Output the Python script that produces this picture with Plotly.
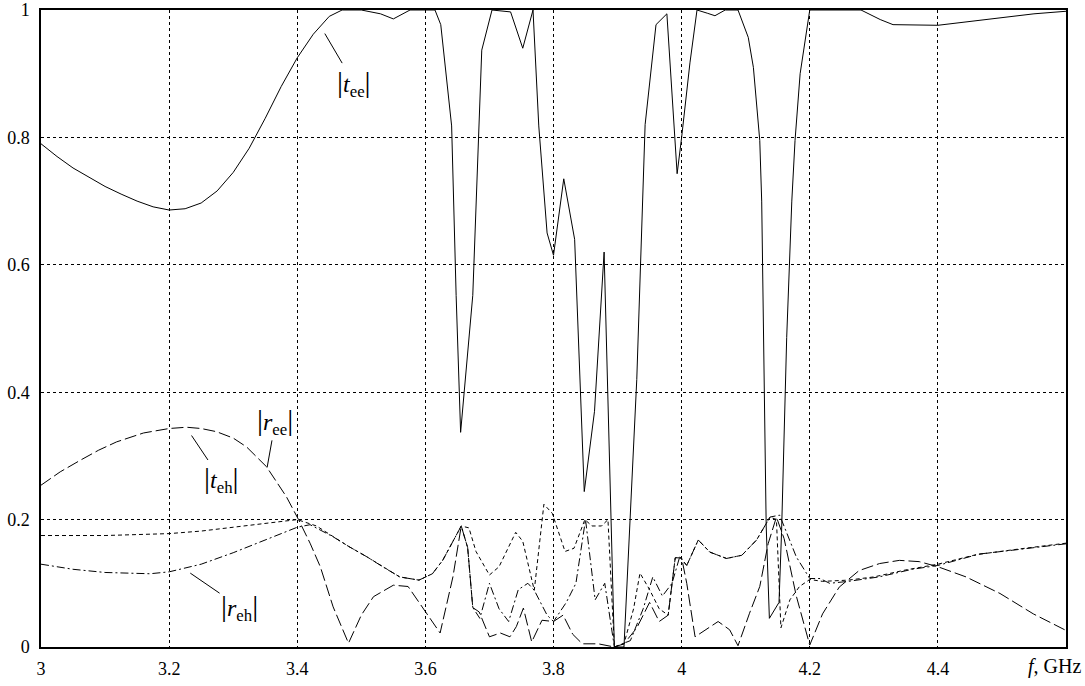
import plotly.graph_objects as go

# |t_ee| (solid)
tee_f = [3.0, 3.025, 3.05, 3.075, 3.1, 3.125, 3.15, 3.175, 3.2, 3.225, 3.25, 3.275, 3.3, 3.325, 3.35, 3.375,
         3.4, 3.425, 3.45, 3.47, 3.5, 3.53, 3.55, 3.576, 3.615,
         3.624, 3.641, 3.648, 3.655, 3.674, 3.688, 3.704, 3.733, 3.752, 3.768, 3.777, 3.79, 3.8, 3.816,
         3.833, 3.848, 3.864, 3.879, 3.895, 3.91, 3.93, 3.943, 3.96, 3.977, 3.993, 4.0, 4.013, 4.024,
         4.04, 4.052, 4.068, 4.088, 4.104, 4.112, 4.122, 4.125, 4.132, 4.137, 4.152, 4.156, 4.164,
         4.172, 4.177, 4.185, 4.2, 4.28, 4.31, 4.33, 4.4, 4.45, 4.5, 4.55, 4.6]
tee_v = [0.79, 0.77, 0.752, 0.737, 0.723, 0.711, 0.700, 0.691, 0.686, 0.688, 0.697, 0.716, 0.745, 0.783, 0.83, 0.88,
         0.925, 0.962, 0.99, 1.0, 1.0, 0.994, 0.986, 1.0, 1.0,
         0.977, 0.818, 0.552, 0.337, 0.552, 0.937, 1.0, 0.997, 0.94, 1.0, 0.818, 0.65, 0.615, 0.735,
         0.64, 0.244, 0.37, 0.62, 0.0, 0.0, 0.42, 0.82, 0.977, 0.994, 0.743, 0.80, 0.917, 1.0,
         0.995, 0.991, 1.0, 1.0, 0.957, 0.91, 0.795, 0.70, 0.19, 0.045, 0.07, 0.18, 0.486,
         0.70, 0.795, 0.90, 1.0, 1.0, 0.985, 0.977, 0.976, 0.982, 0.988, 0.994, 0.998]

# |r_ee| (long dash)
ree_f = [3.0, 3.03, 3.061, 3.09, 3.118, 3.16, 3.2, 3.227, 3.25, 3.274, 3.3, 3.321, 3.352, 3.383, 3.402, 3.42,
         3.436, 3.456, 3.48, 3.5, 3.519, 3.55,
         3.573, 3.602, 3.623, 3.643, 3.656, 3.666, 3.674, 3.684, 3.70, 3.717, 3.732, 3.742, 3.753, 3.766,
         3.782, 3.80, 3.815, 3.83, 3.845, 3.87, 3.895, 3.91, 3.93, 3.95, 3.965, 3.979, 3.99, 4.0, 4.008,
         4.021, 4.044, 4.057, 4.075, 4.088, 4.106, 4.122, 4.135, 4.148, 4.16, 4.179, 4.2, 4.22, 4.246,
         4.277, 4.309, 4.34, 4.371, 4.4, 4.444, 4.497, 4.549, 4.6]
ree_v = [0.254, 0.275, 0.293, 0.309, 0.322, 0.336, 0.343, 0.345, 0.343, 0.338, 0.328, 0.314, 0.283, 0.236, 0.2, 0.163,
         0.126, 0.063, 0.006, 0.05, 0.079, 0.097,
         0.095, 0.053, 0.022, 0.11, 0.19, 0.156, 0.062, 0.055, 0.016, 0.022, 0.016, 0.032, 0.061, 0.008,
         0.042, 0.04, 0.05, 0.02, 0.005, 0.005, 0.0, 0.005, 0.03, 0.07, 0.04, 0.05, 0.14, 0.14, 0.1,
         0.016, 0.032, 0.04, 0.027, 0.002, 0.053, 0.095, 0.162, 0.204, 0.17, 0.08, 0.003, 0.052, 0.094,
         0.12, 0.131, 0.136, 0.134, 0.126, 0.11, 0.084, 0.052, 0.026]

# |t_eh| (short dash)
teh_f = [3.0, 3.1, 3.2, 3.25, 3.3, 3.35, 3.4, 3.43, 3.456, 3.48, 3.508, 3.535, 3.56, 3.59, 3.611, 3.627, 3.656,
         3.668, 3.679, 3.70,
         3.715, 3.741, 3.752, 3.77, 3.785, 3.798, 3.818, 3.832, 3.849, 3.86, 3.875, 3.885, 3.895, 3.91,
         3.925, 3.935, 3.95, 3.965, 3.979, 3.99, 3.997, 4.008, 4.026, 4.044, 4.07, 4.094, 4.117, 4.138,
         4.148, 4.155, 4.169, 4.184, 4.2, 4.22, 4.26, 4.3, 4.35, 4.4, 4.46, 4.52, 4.6]
teh_v = [0.175, 0.175, 0.178, 0.182, 0.188, 0.194, 0.2, 0.19, 0.173, 0.158, 0.142, 0.125, 0.11, 0.105, 0.115,
         0.136, 0.19, 0.187, 0.15, 0.113,
         0.126, 0.18, 0.166, 0.089, 0.224, 0.21, 0.15, 0.155, 0.2, 0.19, 0.19, 0.2, 0.0, 0.005,
         0.06, 0.116, 0.09, 0.06, 0.05, 0.14, 0.1415, 0.128, 0.168, 0.149, 0.139, 0.144, 0.168, 0.204,
         0.2, 0.03, 0.074, 0.095, 0.106, 0.103, 0.105, 0.11, 0.121, 0.13, 0.145, 0.153, 0.163]

# |r_eh| (dash-dot)
reh_f = [3.0, 3.05, 3.1, 3.17, 3.2, 3.25, 3.3, 3.35, 3.4, 3.42, 3.456, 3.48, 3.508, 3.535, 3.56, 3.59, 3.611,
         3.627, 3.656,
         3.666, 3.674, 3.685, 3.70, 3.715, 3.73, 3.745, 3.76, 3.77, 3.79, 3.80, 3.82, 3.835, 3.85, 3.865,
         3.88, 3.895, 3.92, 3.94, 3.955, 3.97, 3.985, 3.997, 4.008, 4.026, 4.044, 4.07, 4.094, 4.117,
         4.138, 4.153, 4.158, 4.179, 4.2, 4.216, 4.231, 4.26, 4.308, 4.36, 4.4, 4.465, 4.517, 4.6]
reh_v = [0.13, 0.122, 0.117, 0.115, 0.118, 0.13, 0.148, 0.168, 0.188, 0.192, 0.173, 0.158, 0.142, 0.125, 0.11,
         0.105, 0.115, 0.136, 0.19,
         0.156, 0.062, 0.045, 0.1, 0.06, 0.04, 0.09, 0.1, 0.089, 0.05, 0.04, 0.07, 0.1, 0.2, 0.074,
         0.1, 0.0, 0.01, 0.06, 0.11, 0.08, 0.1, 0.1415, 0.128, 0.168, 0.149, 0.139, 0.144, 0.168,
         0.204, 0.207, 0.194, 0.1415, 0.1075, 0.1075, 0.1, 0.103, 0.11, 0.122, 0.128, 0.146, 0.152, 0.162]

x_ticks = [3, 3.2, 3.4, 3.6, 3.8, 4, 4.2, 4.4]
x_tick_text = ["3", "3.2", "3.4", "3.6", "3.8", "4", "4.2", "4.4"]
y_ticks = [0, 0.2, 0.4, 0.6, 0.8, 1]
y_tick_text = ["0", "0.2", "0.4", "0.6", "0.8", "1"]

BAR = '<span style="font-size:30px">|</span>'
# label: (symbol, subscript, head f, head v, label f, label v)
labels = [
    ("t", "ee", 3.443, 0.963, 3.488, 0.886),
    ("r", "ee", 3.353, 0.282, 3.366, 0.355),
    ("t", "eh", 3.235, 0.332, 3.281, 0.263),
    ("r", "eh", 3.233, 0.116, 3.31, 0.063),
]

FONT = "Liberation Serif"
fig = go.Figure()
fig.add_trace(go.Scatter(x=tee_f, y=tee_v, mode="lines", line=dict(color="black", width=1), name="|t_ee|"))
fig.add_trace(go.Scatter(x=ree_f, y=ree_v, mode="lines", line=dict(color="black", width=1, dash="12px,4px"), name="|r_ee|"))
fig.add_trace(go.Scatter(x=teh_f, y=teh_v, mode="lines", line=dict(color="black", width=1, dash="4px,3px"), name="|t_eh|"))
fig.add_trace(go.Scatter(x=reh_f, y=reh_v, mode="lines", line=dict(color="black", width=1, dash="8px,3px,2px,3px"), name="|r_eh|"))

for sym, sub, hx, hy, lx, ly in labels:
    fig.add_annotation(x=hx, y=hy, ax=lx, ay=ly, axref="x", ayref="y", xref="x", yref="y",
                       text=f"{BAR}<i>{sym}</i><sub>{sub}</sub>{BAR}", showarrow=True, arrowhead=0,
                       arrowwidth=1, arrowcolor="black", standoff=0, startstandoff=0,
                       font=dict(family=FONT, size=24, color="black"))

fig.add_annotation(x=1.0, y=-0.01, xref="paper", yref="paper", xanchor="right", yanchor="top",
                   xshift=17, text="<i>f</i>, GHz", showarrow=False,
                   font=dict(family=FONT, size=20, color="black"))

grid = dict(showgrid=True, gridcolor="black", gridwidth=1, griddash="3px,3px",
            showline=True, linecolor="black", linewidth=1.5, mirror=True, ticks="",
            zeroline=False, automargin=False, ticklabeloverflow="allow",
            tickfont=dict(family=FONT, size=18, color="black"))
fig.update_xaxes(range=[3, 4.6], tickvals=x_ticks, ticktext=x_tick_text, ticklabelstandoff=5, **grid)
fig.update_yaxes(range=[0, 1], tickvals=y_ticks, ticktext=y_tick_text, ticklabelstandoff=6, **grid)

fig.update_layout(width=1085, height=686, margin=dict(l=41, r=19, t=10, b=39),
                  plot_bgcolor="white", paper_bgcolor="white", showlegend=False,
                  font=dict(family=FONT, color="black"))
fig.write_html("out.html", config={"displayModeBar": False},
               post_script="document.body.style.margin='0';document.body.style.overflow='hidden';")
